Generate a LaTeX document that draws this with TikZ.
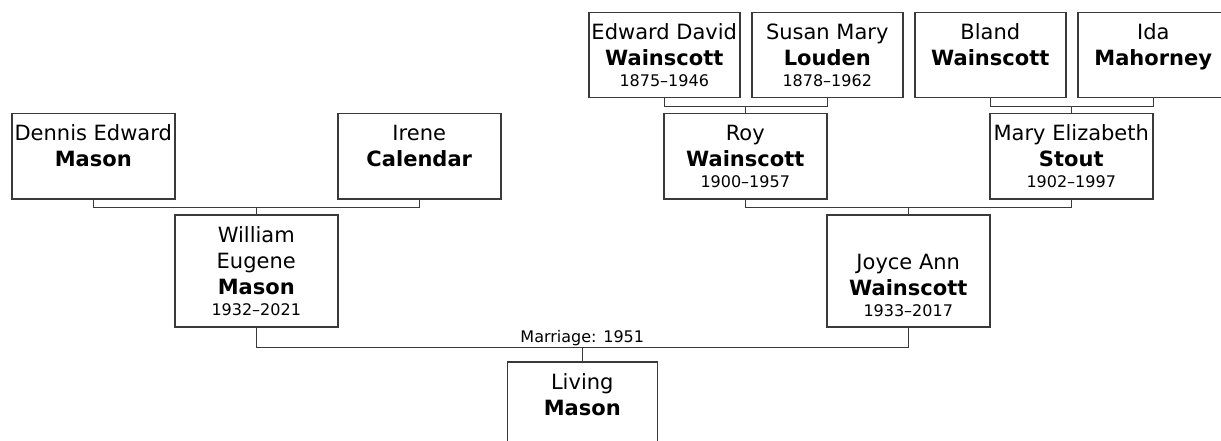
\documentclass[tikz,border=0pt]{standalone}
\usepackage{fontspec}
\setmainfont{DejaVu Sans}
\definecolor{boxline}{HTML}{3A3A3A}
\newcommand{\namefont}{\fontsize{21}{26}\selectfont}
\newcommand{\datefont}{\fontsize{16}{19}\selectfont}
% card text: width, height, lines (optional: first baseline)
\newcommand{\pcard}[4][27pt]{\parbox[c][#3][t]{#2}{\centering\namefont\rule{0pt}{#1}#4\par}}
\tikzset{
  person/.style={draw=boxline, line width=1.5pt, inner sep=0pt, anchor=north west},
  link/.style={draw=boxline, line width=1.5pt}
}
\begin{document}
\begin{tikzpicture}[x=1pt,y=-1pt]
  \useasboundingbox (0,0) rectangle (1221,441);
  \clip (0,0) rectangle (1221,441);
  % father's side
  \node[person] (dennis) at (11,113) {\pcard{163pt}{85pt}{Dennis Edward\\ \textbf{Mason}}};
  \node[person] (irene) at (337,113) {\pcard{163pt}{85pt}{Irene\\ \textbf{Calendar}}};
  \node[person] (william) at (174,214) {\pcard[28pt]{163pt}{112pt}{William\\ Eugene\\ \textbf{Mason}\\[-5pt] {\datefont 1932–2021}}};
  % mother's side
  \node[person] (edward) at (588,12) {\pcard{151pt}{85pt}{Edward David\\ \textbf{Wainscott}\\[-5pt] {\datefont 1875–1946}}};
  \node[person] (susan) at (751,12) {\pcard{151pt}{85pt}{Susan Mary\\ \textbf{Louden}\\[-5pt] {\datefont 1878–1962}}};
  \node[person] (bland) at (914,12) {\pcard{151pt}{85pt}{Bland\\ \textbf{Wainscott}}};
  \node[person] (ida) at (1077,12) {\pcard{151pt}{85pt}{Ida\\ \textbf{Mahorney}}};
  \node[person] (roy) at (663,113) {\pcard{163pt}{85pt}{Roy\\ \textbf{Wainscott}\\[-5pt] {\datefont 1900–1957}}};
  \node[person] (mary) at (989,113) {\pcard{163pt}{85pt}{Mary Elizabeth\\ \textbf{Stout}\\[-5pt] {\datefont 1902–1997}}};
  \node[person] (joyce) at (826,214) {\pcard[55pt]{163pt}{112pt}{Joyce Ann\\ \textbf{Wainscott}\\[-5pt] {\datefont 1933–2017}}};
  % child
  \node[person] (living) at (506.5,361) {\pcard[28pt]{150pt}{112pt}{Living\\ \textbf{Mason}}};

  \draw[link] (dennis.south) -- ++(0,8) coordinate (dw) -| (irene.south);
  \draw[link] (william.north) -- (william.north |- dw);
  \draw[link] (edward.south) -- ++(0,8) coordinate (er) -| (susan.south);
  \draw[link] (roy.north) -- (roy.north |- er);
  \draw[link] (bland.south) -- ++(0,8) coordinate (bm) -| (ida.south);
  \draw[link] (mary.north) -- (mary.north |- bm);
  \draw[link] (roy.south) -- ++(0,8) coordinate (rj) -| (mary.south);
  \draw[link] (joyce.north) -- (joyce.north |- rj);
  \draw[link] (william.south) -- ++(0,20) coordinate (wj)
    -| node[pos=0.25, above, font=\datefont, inner sep=0.5pt] {Marriage: 1951} (joyce.south);
  \draw[link] (living.north) -- (living.north |- wj);
\end{tikzpicture}
\end{document}
